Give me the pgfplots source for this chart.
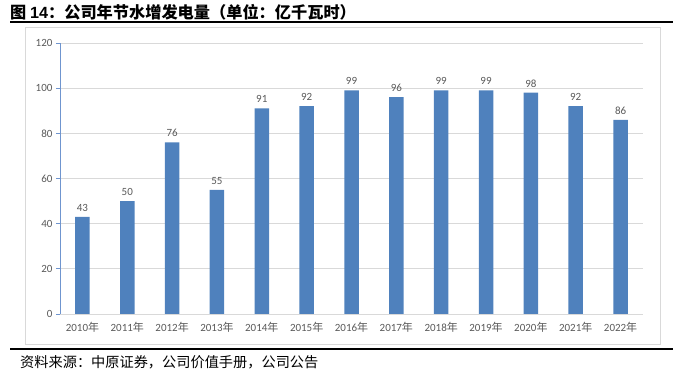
\documentclass[border=0pt]{standalone}
\usepackage{pgfplots}
\pgfplotsset{compat=1.18}
\usepackage{fontspec}
\setmainfont{Carlito}
\newfontfamily\cjk{Noto Sans CJK SC}
\definecolor{barblue}{HTML}{4F81BD}
\definecolor{axblue}{HTML}{6F95CF}
\definecolor{txtgray}{HTML}{595959}
\definecolor{gridgray}{HTML}{D9D9D9}
\newcommand{\nian}{{\cjk 年}}
\begin{document}
\begin{tikzpicture}
\useasboundingbox (0pt,0pt) rectangle (683pt,377pt);
% title
\node[anchor=west,inner sep=0pt] at (10pt,365pt) {\fontsize{16.2}{17}\selectfont\cjk\bfseries 图 {\fontspec{Liberation Sans}\bfseries 14}：公司年节水增发电量（单位：亿千瓦时）};
\draw[line width=2pt,black] (10pt,354.5pt) -- (673pt,354.5pt);
% frame
\draw[gridgray,line width=0.8pt] (25pt,33pt) rectangle (660pt,350pt);
% bottom rule & source
\draw[line width=2pt,black] (10pt,27.5pt) -- (673pt,27.5pt);
\node[anchor=west,inner sep=0pt] at (20pt,15pt) {\fontsize{14.2}{15}\selectfont\cjk 资料来源：中原证券，公司价值手册，公司公告};
\begin{axis}[
  at={(60pt,63pt)}, anchor=south west,
  scale only axis, width=583pt, height=271pt,
  xmin=-0.5, xmax=12.5, ymin=0, ymax=120,
  ytick={0,20,...,120},
  xtick={0,...,12},
  xticklabels={2010\nian,2011\nian,2012\nian,2013\nian,2014\nian,2015\nian,2016\nian,2017\nian,2018\nian,2019\nian,2020\nian,2021\nian,2022\nian},
  /pgf/number format/assume math mode=true,
  ymajorgrids, major grid style={gridgray,line width=0.8pt},
  axis x line*=bottom, axis y line*=left,
  x axis line style={gridgray,line width=0.8pt,-},
  y axis line style={axblue,line width=1pt,-},
  xtick style={draw=none},
  ytick style={axblue,line width=0.8pt},
  tick align=outside, major tick length=4pt,
  tick label style={txtgray,font=\fontsize{11}{12}\selectfont},
  xticklabel style={yshift=-1pt},
  ybar, bar width=14.5pt,
  nodes near coords,
  every node near coord/.append style={txtgray,font=\fontsize{11}{12}\selectfont,yshift=2pt},
]
\addplot[fill=barblue,draw=none] coordinates {(0,43) (1,50) (2,76) (3,55) (4,91) (5,92) (6,99) (7,96) (8,99) (9,99) (10,98) (11,92) (12,86)};
\end{axis}
\end{tikzpicture}
\end{document}
